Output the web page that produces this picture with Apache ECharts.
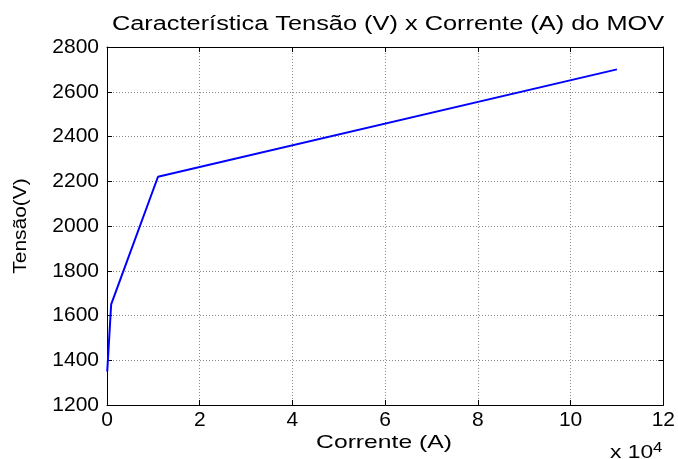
<!DOCTYPE html>
<html>
<head>
<meta charset="utf-8">
<script src="https://cdn.jsdelivr.net/npm/echarts@6/dist/echarts.min.js"></script>
<style>
  html, body { margin: 0; padding: 0; background: #fff; }
  #chart { width: 678px; height: 459px; }
</style>
</head>
<body>
<div id="chart"></div>
<script>
// curva V x I do MOV
const corrente = [50, 900, 11000, 110000];
const tensao = [1350, 1650, 2220, 2700];
const xTicks = [0, 2, 4, 6, 8, 10, 12]; // x 10^4
const yTicks = [1200, 1400, 1600, 1800, 2000, 2200, 2400, 2600, 2800];

const font = "Liberation Sans, Arial, sans-serif";
const chart = echarts.init(document.getElementById("chart"));

const lineData = corrente.map(function (c, i) {
  return [c, tensao[i]];
});

const gridLine = { show: true, lineStyle: { color: "#8a8a8a", type: [1, 2], width: 1 } };
const axisBlack = { show: true, onZero: false, lineStyle: { color: "#000", width: 1 } };
const tickIn = { inside: true, length: 5, lineStyle: { color: "#000" } };

chart.setOption({
  animation: false,
  backgroundColor: "#fff",
  grid: { left: 107, right: 13, top: 47, bottom: 54 },
  xAxis: [
    {
      type: "value",
      min: xTicks[0] * 1e4,
      max: xTicks[xTicks.length - 1] * 1e4,
      interval: 2e4,
      axisLine: axisBlack,
      axisTick: tickIn,
      axisLabel: {
        fontFamily: font, fontSize: 21, color: "#000", margin: 5,
        formatter: function (v) { return String(v / 1e4); },
      },
      splitLine: gridLine,
    },
    {
      type: "value", position: "top",
      min: xTicks[0] * 1e4, max: xTicks[xTicks.length - 1] * 1e4, interval: 2e4,
      axisLine: axisBlack,
      axisTick: tickIn,
      axisLabel: { show: false },
      splitLine: { show: false },
    },
  ],
  yAxis: [
    {
      type: "value",
      min: yTicks[0],
      max: yTicks[yTicks.length - 1],
      interval: 200,
      axisLine: axisBlack,
      axisTick: tickIn,
      axisLabel: {
        fontFamily: font, fontSize: 21, color: "#000", margin: 8,
        formatter: function (v) { return String(v); },
      },
      splitLine: gridLine,
    },
    {
      type: "value", position: "right",
      min: yTicks[0], max: yTicks[yTicks.length - 1], interval: 200,
      axisLine: axisBlack,
      axisTick: tickIn,
      axisLabel: { show: false },
      splitLine: { show: false },
    },
  ],
  graphic: [
    {
      // título
      type: "text",
      x: 388, y: 25, scaleX: 1.3,
      style: {
        text: "Característica Tensão (V) x Corrente (A) do MOV",
        font: "19.5px " + font, fill: "#000",
        textAlign: "center", textVerticalAlign: "middle",
      },
    },
    {
      type: "text",
      x: 384, y: 443, scaleX: 1.3,
      style: {
        text: "Corrente (A)",
        font: "19px " + font, fill: "#000",
        textAlign: "center", textVerticalAlign: "middle",
      },
    },
    {
      type: "text",
      x: 21, y: 226, rotation: Math.PI / 2, scaleX: 1.1,
      style: {
        text: "Tensão(V)",
        font: "19px " + font, fill: "#000",
        textAlign: "center", textVerticalAlign: "middle",
      },
    },
    {
      type: "text",
      x: 610, y: 441, scaleX: 1.2,
      style: {
        text: "x 10{s|4}",
        font: "19px " + font,
        fill: "#000",
        rich: { s: { fontSize: 14, verticalAlign: "top", padding: [0, 0, 10, 0], fontFamily: font } },
      },
    },
  ],
  series: [
    {
      type: "line",
      data: lineData,
      showSymbol: false,
      lineStyle: { color: "#0000ff", width: 2 },
    },
  ],
});
</script>
</body>
</html>
